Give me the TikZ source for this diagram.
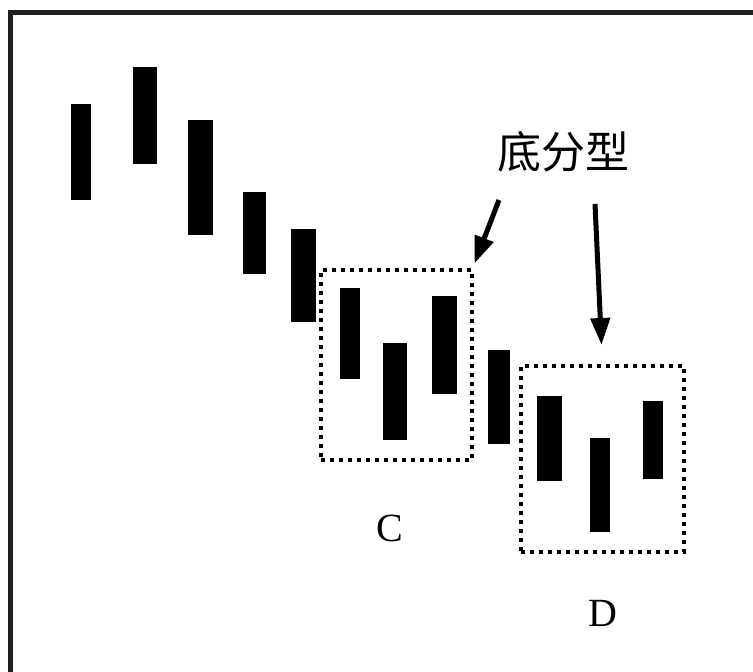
\documentclass[tikz,border=0pt]{standalone}
\usepackage{fontspec}
\setmainfont{Liberation Serif}
\newfontfamily\cjk{Noto Sans CJK SC}
\usetikzlibrary{arrows.meta, positioning}

\begin{document}
\begin{tikzpicture}[
  x=1pt, y=-1pt,
  bar/.style={fill=black, draw=none, inner sep=0pt, outer sep=0pt},
  fenbox/.style={draw=black, line width=3.6pt, dash pattern=on 4pt off 5pt,
                 inner sep=0pt, outer sep=0pt},
  lbl/.style={font=\cjk\fontsize{44}{44}\selectfont, inner sep=0pt},
  letter/.style={font=\fontsize{40}{40}\selectfont, inner sep=0pt},
  arr/.style={-{Triangle[length=27pt, width=19pt]}, line width=5pt}
]
  \useasboundingbox (0,0) rectangle (753,672);
  \fill[white] (0,0) rectangle (753,672);

  % ---- frame: only top and left edges show ----
  \draw[line width=5pt, black!88] (753,12.5) -- (10.5,12.5) -- (10.5,672);

  % ---- candles: left/top/right/bottom ----
  \foreach \l/\t/\r/\b [count=\i] in {71/104/91/200, 133/67/157/164, 188/120/213/235,
      243/192/266/274, 291/229/316/322, 340/288/360/379, 383/343/407/440,
      432/296/457/394, 488/350/510/444, 537/396/562/481, 590/438/610/532,
      643/401/663/479}
    \node[bar, minimum width={(\r-\l)*1pt}, minimum height={(\b-\t)*1pt}]
      (b\i) at ({(\l+\r)/2},{(\t+\b)/2}) {};

  % ---- the two bottom patterns ----
  \node[fenbox, minimum width=151pt, minimum height=190pt] (boxC) at (396.5,365) {};
  \node[fenbox, minimum width=163pt, minimum height=186pt] (boxD) at (602.5,459) {};

  \node[letter] (labC) at (390,528) {C};
  \node[letter] (labD) at (603,613) {D};

  % ---- label and pointers ----
  \node[lbl] (name) at (563,152) {底分型};
  \coordinate (p1) at (499,200);
  \coordinate (p2) at (595,204);
  \draw[arr, shorten >=7pt] (p1) -- (boxC.north east);
  \draw[arr, shorten >=21pt] (p2) -- (boxD.north);
\end{tikzpicture}
\end{document}
